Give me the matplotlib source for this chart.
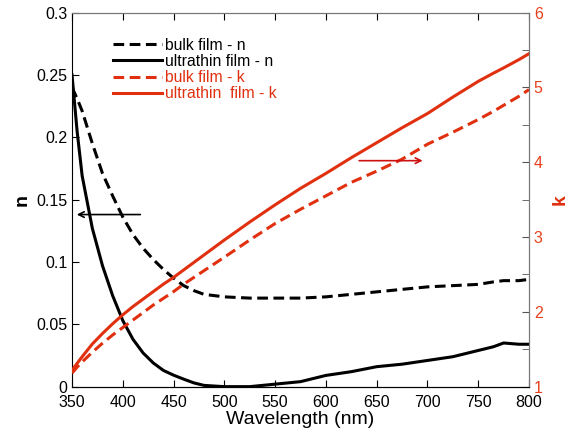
import numpy as np
import matplotlib
matplotlib.use('Agg')
import matplotlib.pyplot as plt

plt.rcParams['font.family'] = ['Liberation Sans', 'DejaVu Sans']

# wavelength grid (nm)
wl = [350, 355, 360, 370, 380, 390, 400, 410, 420, 430, 440, 450, 460, 470, 480,
      500, 525, 550, 575, 600, 625, 650, 675, 700, 725, 750, 765, 775, 790, 800]

# refractive index n
n_bulk = [0.240, 0.231, 0.221, 0.195, 0.171, 0.153, 0.136, 0.122, 0.111, 0.102, 0.094,
          0.087, 0.081, 0.077, 0.074, 0.072, 0.071, 0.071, 0.071, 0.072, 0.074, 0.076,
          0.078, 0.080, 0.081, 0.082, 0.084, 0.085, 0.085, 0.086]
n_thin = [0.250, 0.205, 0.169, 0.127, 0.097, 0.073, 0.053, 0.038, 0.027, 0.019, 0.013,
          0.0092, 0.006, 0.003, 0.001, 0.000, 0.000, 0.002, 0.004, 0.009, 0.012, 0.016,
          0.018, 0.021, 0.024, 0.029, 0.032, 0.035, 0.034, 0.034]

# extinction coefficient k
k_bulk = [1.18, 1.26, 1.33, 1.46, 1.58, 1.69, 1.79, 1.89, 1.99, 2.09, 2.18, 2.27, 2.37,
          2.46, 2.55, 2.73, 2.96, 3.18, 3.37, 3.55, 3.73, 3.88, 4.04, 4.24, 4.40, 4.57,
          4.68, 4.76, 4.88, 4.97]
k_thin = [1.22, 1.31, 1.40, 1.57, 1.71, 1.84, 1.96, 2.07, 2.17, 2.27, 2.37, 2.46, 2.56,
          2.66, 2.76, 2.96, 3.20, 3.43, 3.65, 3.85, 4.06, 4.26, 4.46, 4.65, 4.87, 5.08,
          5.19, 5.26, 5.37, 5.45]

red = '#e0300f'
tick_red = '#e8401c'

fig = plt.figure(figsize=(5.67, 4.32), dpi=100)
ax = fig.add_axes([0.127, 0.105, 0.806, 0.866])
ax2 = ax.twinx()

l1, = ax.plot(wl, n_bulk, color='black', lw=2.2, dashes=(3.5, 1.8), label='bulk film - n')
l2, = ax.plot(wl, n_thin, color='black', lw=2.2, label='ultrathin film - n')
l3, = ax2.plot(wl, k_bulk, color=red, lw=2.2, dashes=(3.5, 1.8), label='bulk film - k')
l4, = ax2.plot(wl, k_thin, color=red, lw=2.2, label='ultrathin  film - k')

ax.set_xlim(350, 800)
ax.set_ylim(0, 0.3)
ax2.set_ylim(1, 6)
ax.set_xticks(np.arange(350, 801, 50))
ax.set_yticks([0, 0.05, 0.1, 0.15, 0.2, 0.25, 0.3])
ax.set_yticklabels(['0', '0.05', '0.1', '0.15', '0.2', '0.25', '0.3'])
ax2.set_yticks([1, 2, 3, 4, 5, 6])
ax2.set_yticks([1.5, 2.5, 3.5, 4.5, 5.5], minor=True)

ax.tick_params(axis='both', direction='in', labelsize=11.5, length=5, top=True, right=False)
ax.tick_params(axis='x', pad=6)
ax2.tick_params(axis='y', which='both', direction='in', labelsize=11.5, length=5,
                colors='#555555', labelcolor=tick_red)
for s in ['top', 'right']:
    ax.spines[s].set_color('#777777')
ax2.spines['right'].set_color('#777777')
ax2.spines['top'].set_color('#777777')
ax2.spines['left'].set_visible(False)

ax.set_xlabel('Wavelength (nm)', fontsize=14, labelpad=1)
ax.set_ylabel('n', fontsize=14, fontweight='bold', labelpad=4)
ax2.set_ylabel('k', fontsize=14, fontweight='bold', color=red, labelpad=6)

ax.annotate('', xy=(352, 0.138), xytext=(420, 0.138),
            arrowprops=dict(arrowstyle='->', color='black', lw=1.2))
ax2.annotate('', xy=(698, 4.02), xytext=(630, 4.02),
             arrowprops=dict(arrowstyle='->', color='#cc1010', lw=1.2))

ax2.legend(handles=[l1, l2, l3, l4], loc='upper left', bbox_to_anchor=(0.066, 0.962),
           frameon=False, fontsize=11.3, handlelength=3.1, handletextpad=0.2,
           labelspacing=0.08, borderpad=0.2,
           labelcolor=['black', 'black', red, red])

fig.savefig('out.png', dpi=100)
